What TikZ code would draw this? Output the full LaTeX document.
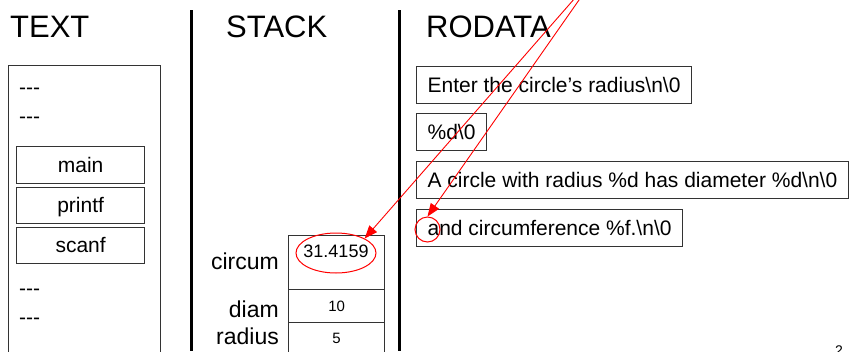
\documentclass[tikz,border=0pt]{standalone}
\usepackage{fontspec}
\setmainfont{Liberation Sans}
\usetikzlibrary{arrows.meta,shapes.geometric}
\begin{document}
\begin{tikzpicture}[x=1pt,y=-1pt,
  title/.style={font=\fontsize{31}{31}\selectfont, anchor=base west, inner sep=0},
  body/.style={font=\fontsize{21}{21}\selectfont},
  frame/.style={draw=black!80, line width=1.2pt},
  divider/.style={line width=2.2pt},
  dashes/.style={body, anchor=base west, inner sep=0},
  fnbox/.style={frame, body, minimum width=128pt, minimum height=36.5pt, anchor=north west,
    inner sep=0, text height=16pt, text depth=1pt},
  strbox/.style={frame, body, minimum height=37pt, anchor=north west, inner xsep=11pt,
    inner ysep=0, text height=16pt, text depth=1pt},
  cell/.style={frame, minimum width=96pt, anchor=north west, inner sep=0},
  cellval/.style={font=\fontsize{15}{15}\selectfont, inner sep=0},
  varname/.style={font=\fontsize{23}{23}\selectfont, anchor=base east, inner sep=0},
  hl/.style={draw=red, line width=1pt},
  pointer/.style={red, line width=0.9pt, -{Triangle[length=13pt,width=10pt]}}]
\useasboundingbox (0,0) rectangle (849,351);

% column headings
\node[title] (ttext) at (10,37) {TEXT};
\node[title] (tstack) at (226,37) {STACK};
\node[title] (trodata) at (426,37) {RODATA};

% column dividers
\coordinate (div1top) at (191.5,10);
\coordinate (div1bot) at (191.5,351);
\coordinate (div2top) at (399.5,10);
\coordinate (div2bot) at (399.5,351);
\draw[divider] (div1top) -- (div1bot);
\draw[divider] (div2top) -- (div2bot);

% text segment
\node[frame, anchor=north west, minimum width=152pt, minimum height=300pt, inner sep=0] (textseg) at (8,65) {};
\node[dashes] (dash1) at (19,94) {-{}-{}-};
\node[dashes] (dash2) at (19,123) {-{}-{}-};
\node[fnbox] (fmain) at (16,146) {main};
\node[fnbox] (fprintf) at (16,186.5) {printf};
\node[fnbox] (fscanf) at (16,226.5) {scanf};
\node[dashes] (dash3) at (19,295) {-{}-{}-};
\node[dashes] (dash4) at (19,324) {-{}-{}-};

% stack frame
\node[cell, minimum height=54pt] (ccircum) at (288,235) {};
\node[cell, minimum height=33pt, cellval] (cdiam) at (288,289) {10};
\node[cell, minimum height=32pt, cellval] (cradius) at (288,322) {5};
\node[font=\fontsize{18}{18}\selectfont, inner sep=0] (vcircum) at (336,251.5) {31.4159};
\node[varname] (lcircum) at (279,269) {circum};
\node[varname] (ldiam) at (279,317) {diam};
\node[varname] (lradius) at (279,344) {radius};

% read-only strings
\node[strbox] (s1) at (416,66) {Enter the circle’s radius\textbackslash n\textbackslash 0};
\node[strbox] (s2) at (416,113) {\%d\textbackslash 0};
\node[strbox] (s3) at (416,161) {A circle with radius \%d has diameter \%d\textbackslash n\textbackslash 0};
\node[strbox] (s4) at (416,209) {and circumference \%f.\textbackslash n\textbackslash 0};

% page number
\node[font=\fontsize{14}{14}\selectfont, anchor=base west, inner sep=0] (pagenum) at (835,355) {2};

% highlights and pointers
\node[hl, ellipse, minimum width=80pt, minimum height=40pt, inner sep=0] (hcircum) at (336,253) {};
\node[hl, circle, minimum size=25pt, inner sep=0] (ha) at (427.5,229.5) {};
\coordinate (src1) at (582,-10);
\coordinate (src2) at (586,-10);
\draw[pointer] (src1) -- (hcircum.north east);
\draw[pointer] (src2) -- (ha.north);
\end{tikzpicture}
\end{document}
